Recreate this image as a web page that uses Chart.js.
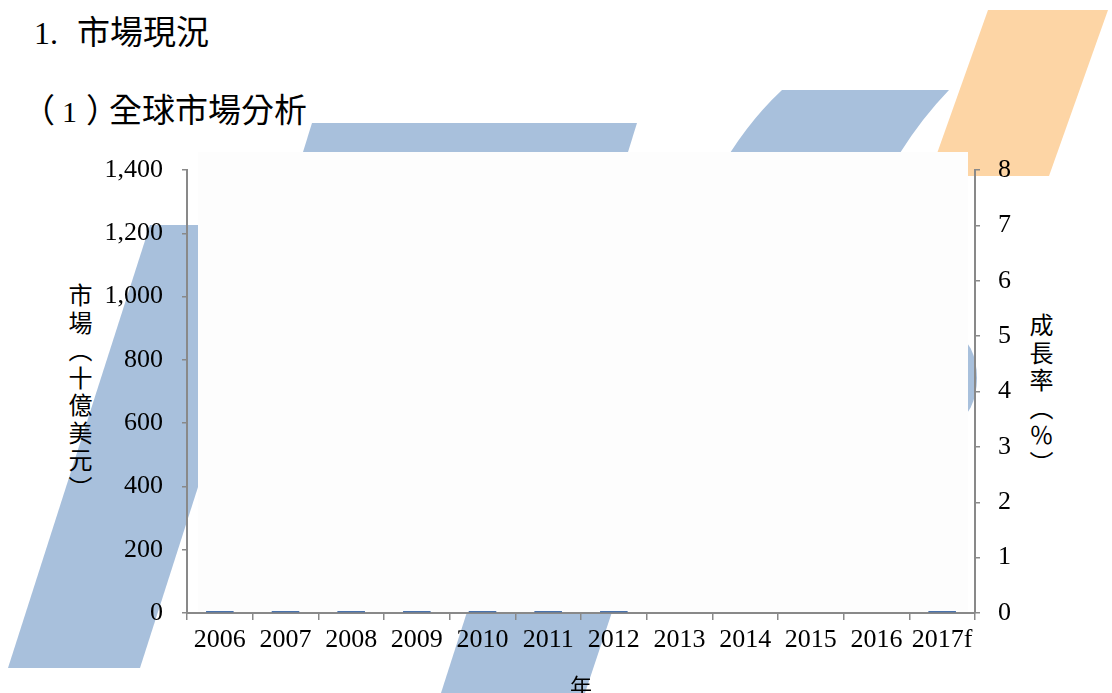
<!DOCTYPE html>
<html>
<head>
<meta charset="utf-8">
<script src="https://cdn.jsdelivr.net/npm/chart.js@4.4.1/dist/chart.umd.min.js"></script>
<style>
  body { margin: 0; background: #fff; }
  #wrap { position: relative; width: 1112px; height: 693px; overflow: hidden; }
  #bg, #grafico { position: absolute; left: 0; top: 0; }
  .titulo { position: absolute; color: #000; white-space: nowrap; font-family: "Noto Sans CJK TC"; font-size: 33px; line-height: 1; }
  .serif { font-family: "Liberation Serif"; }
  .vert { position: absolute; writing-mode: vertical-rl; text-orientation: mixed; font-family: "Noto Sans CJK TC"; font-size: 24px; line-height: 1; letter-spacing: 3.5px; color: #000; }
</style>
</head>
<body>
<div id="wrap">
  <svg id="bg" width="1112" height="693">
    <!-- marca d'agua -->
    <polygon points="150,225 282,225 140,668 8,668" fill="#a8c0dc"/>
    <polygon points="312,123 637,123 628,152 303,152" fill="#a8c0dc"/>
    <polygon points="467,612 612,612 585,693 441,693" fill="#a8c0dc"/>
    <path d="M 782 90 L 949 90 Q 922 118 900 153 L 730 153 Q 754 116 782 90 Z" fill="#a8c0dc"/>
    <ellipse cx="955" cy="378" rx="22" ry="42" fill="#a8c0dc"/>
    <polygon points="988,10 1108,10 1049,176 929,176" fill="#fdd5a5"/>
    <rect x="198" y="152" width="770" height="460" fill="#fdfdfd"/>
  </svg>
  <div class="titulo" style="left:34px; top:14px;"><span class="serif" style="font-size:32px; margin-right:19px;">1.</span>市場現況</div>
  <div class="titulo" style="left:22px; top:92px;">（<span class="serif" style="font-size:30px; margin:0 9px 0 7px;">1</span>）<span style="margin-left:-10px;">全球市場分析</span></div>
  <div class="vert" style="left:68px; top:283px;">市場（十億美元）</div>
  <div class="vert" style="left:1029px; top:313px;">成長率（％）</div>
  <canvas id="grafico" width="1112" height="693"></canvas>
</div>
<script>
const anos = ['2006', '2007', '2008', '2009', '2010', '2011', '2012', '2013', '2014', '2015', '2016', '2017f'];
const mercado = [6, 6, 6, 6, 6, 6, 6, null, null, null, null, 6];
const crescimento = [null, null, null, null, null, null, null, null, null, null, null, null];
const mercadoMax = 1400;
const mercadoPasso = 200;
const crescMax = 8;
const crescPasso = 1;

const corEixo = '#898989';
const fonteNum = { family: 'Liberation Serif', size: 26 };

const ctx = document.getElementById('grafico').getContext('2d');
const meuChart = new Chart(ctx, {
  type: 'bar',
  data: {
    labels: anos,
    datasets: [{
      label: '市場',
      data: mercado,
      yAxisID: 'y',
      backgroundColor: '#3562a3',
      barPercentage: 0.42,
      categoryPercentage: 1
    }, {
      type: 'line',
      label: '成長率',
      data: crescimento,
      yAxisID: 'y1',
      borderColor: '#c0504d',
      pointRadius: 0
    }]
  },
  options: {
    responsive: false,
    maintainAspectRatio: false,
    animation: false,
    layout: { padding: { top: 170, left: 0, right: 0, bottom: 0 } },
    plugins: { legend: { display: false }, tooltip: { enabled: false } },
    scales: {
      x: {
        grid: { display: true, drawOnChartArea: false, drawTicks: true, tickLength: 7, color: corEixo, lineWidth: 1.5, offset: true },
        border: { display: true, color: corEixo, width: 2 },
        ticks: { font: fonteNum, color: '#000', padding: 5, maxRotation: 0, autoSkip: false },
        title: { display: true, text: '年', color: '#000', font: { family: 'Noto Sans CJK TC', size: 22, lineHeight: 1 }, padding: { top: 0, bottom: -4 } },
        afterFit: s => { s.height = 80; }
      },
      y: {
        position: 'left',
        min: 0,
        max: mercadoMax,
        grid: { drawOnChartArea: false, drawTicks: true, tickLength: 5, color: corEixo, lineWidth: 1.5 },
        border: { display: true, color: corEixo, width: 2 },
        ticks: { stepSize: mercadoPasso, font: fonteNum, color: '#000', padding: 19 },
        afterFit: s => { s.width = 187; }
      },
      y1: {
        position: 'right',
        min: 0,
        max: crescMax,
        grid: { drawOnChartArea: false, drawTicks: true, tickLength: 5, color: corEixo, lineWidth: 1.5 },
        border: { display: true, color: corEixo, width: 2 },
        ticks: { stepSize: crescPasso, font: fonteNum, color: '#000', padding: 18 },
        afterFit: s => { s.width = 137; }
      }
    }
  }
});
</script>
</body>
</html>
